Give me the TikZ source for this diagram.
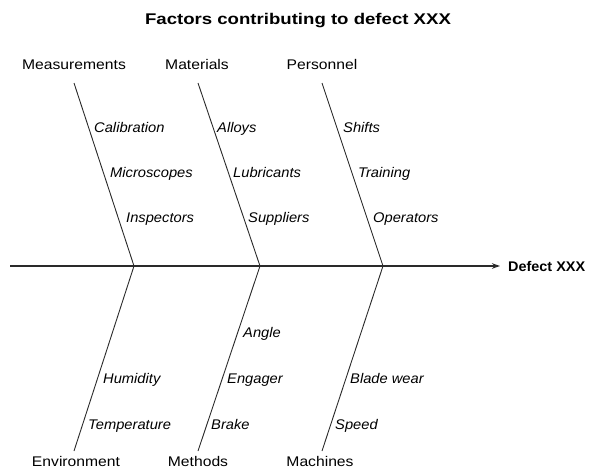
\documentclass[tikz,border=0pt]{standalone}
\usepackage{fontspec}
\setmainfont{Liberation Sans}
\newfontfamily\titlefont[FakeStretch=1.2]{Liberation Sans}
\newfontfamily\catfont[FakeStretch=1.12]{Liberation Sans}
\newfontfamily\subfont[FakeStretch=1.05]{Liberation Sans}
\newfontfamily\effectfont[FakeStretch=1.03]{Liberation Sans}
\usetikzlibrary{arrows.meta}
\definecolor{boneclr}{HTML}{2A2A2A}
\tikzset{
  titlelbl/.style={inner sep=0pt, anchor=base, font=\titlefont\bfseries\fontsize{15.5}{18}\selectfont},
  catlbl/.style={inner sep=0pt, anchor=base, font=\catfont\fontsize{14}{16}\selectfont},
  sublbl/.style={inner sep=0pt, anchor=base west, font=\subfont\itshape\fontsize{14}{16}\selectfont},
  effectlbl/.style={inner sep=0pt, anchor=base west, font=\effectfont\bfseries\fontsize{14}{16}\selectfont},
  bone/.style={draw=boneclr, line width=0.9pt},
  spine/.style={draw=boneclr, line width=1.3pt, -{Stealth[length=8pt,width=5.5pt]}},
}
\begin{document}
\begin{tikzpicture}[x=1pt,y=-1pt]
\useasboundingbox (0,0) rectangle (592,474);
% title
\node[titlelbl] (title) at (298,24.5) {Factors contributing to defect XXX};
% category labels
\node[catlbl] (meas) at (74,69.5) {Measurements};
\node[catlbl] (mat) at (197,69.5) {Materials};
\node[catlbl] (pers) at (322,69.5) {Personnel};
\node[catlbl] (env) at (76,466) {Environment};
\node[catlbl] (meth) at (198,466) {Methods};
\node[catlbl] (mach) at (320,466) {Machines};
% spine
\coordinate (s0) at (10,266);
\coordinate (j1) at (134,266);
\coordinate (j2) at (260,266);
\coordinate (j3) at (383,266);
\coordinate (tip) at (500,266);
\node[effectlbl] (effect) at (508,271) {Defect XXX};
\draw[spine] (s0) -- (tip);
% bone ends
\coordinate (t1) at (74,83);
\coordinate (t2) at (198,83);
\coordinate (t3) at (322,83);
\coordinate (b1) at (74,451);
\coordinate (b2) at (198,451);
\coordinate (b3) at (322,451);
\draw[bone] (t1) -- (j1);
\draw[bone] (t2) -- (j2);
\draw[bone] (t3) -- (j3);
\draw[bone] (j1) -- (b1);
\draw[bone] (j2) -- (b2);
\draw[bone] (j3) -- (b3);
% sub-causes, upper
\node[sublbl] (cal) at (94,132) {Calibration};
\node[sublbl] (micro) at (110,177.5) {Microscopes};
\node[sublbl] (insp) at (126,222.5) {Inspectors};
\node[sublbl] (alloys) at (217,132) {Alloys};
\node[sublbl] (lubr) at (233,177.5) {Lubricants};
\node[sublbl] (suppl) at (248,222.5) {Suppliers};
\node[sublbl] (shifts) at (343,132) {Shifts};
\node[sublbl] (train) at (358,177.5) {Training};
\node[sublbl] (oper) at (373,222.5) {Operators};
% sub-causes, lower
\node[sublbl] (angle) at (243,337) {Angle};
\node[sublbl] (humid) at (103,383) {Humidity};
\node[sublbl] (engag) at (227,383) {Engager};
\node[sublbl] (blade) at (350,383) {Blade wear};
\node[sublbl] (temp) at (88,429) {Temperature};
\node[sublbl] (brake) at (211,429) {Brake};
\node[sublbl] (speed) at (335,429) {Speed};
\end{tikzpicture}
\end{document}
